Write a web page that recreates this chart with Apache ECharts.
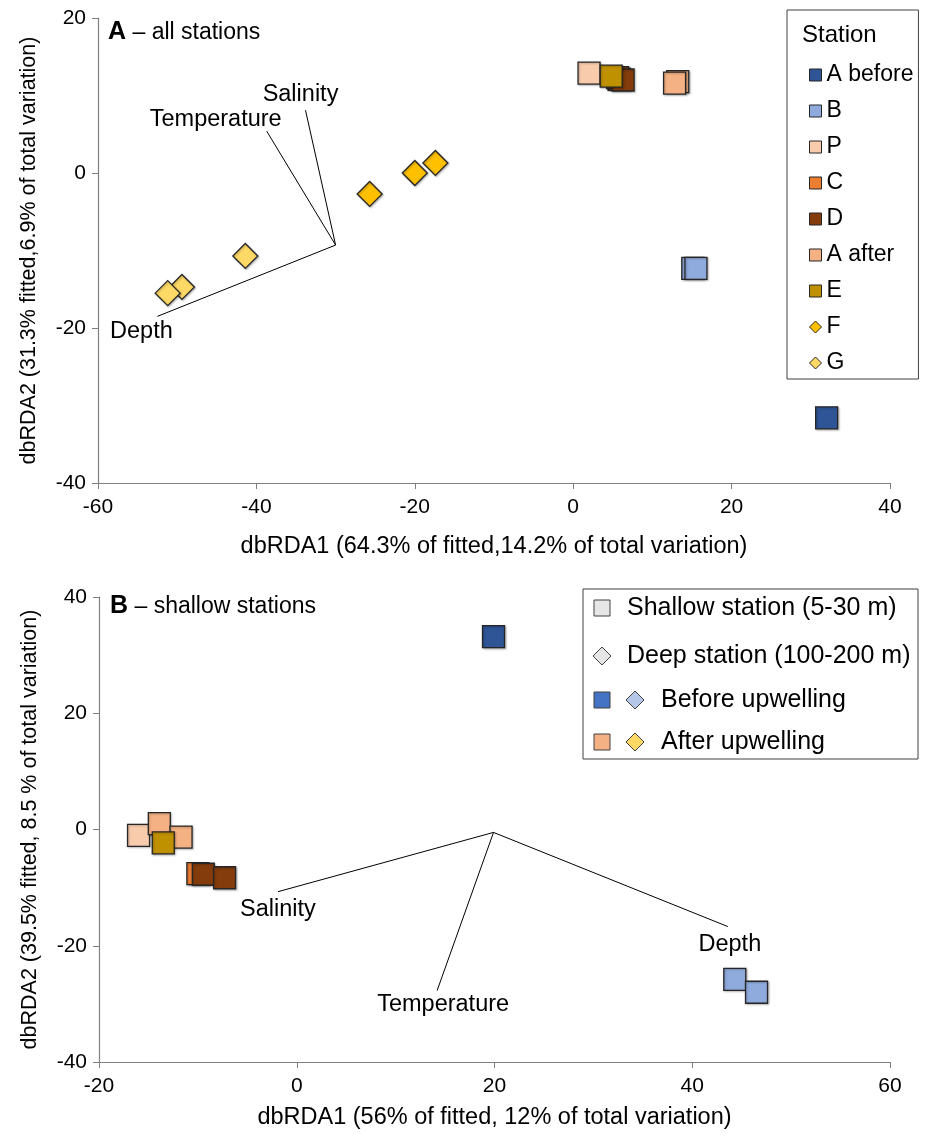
<!DOCTYPE html>
<html>
<head>
<meta charset="utf-8">
<script src="https://cdn.jsdelivr.net/npm/echarts@6/dist/echarts.min.js"></script>
<style>
    html, body { margin: 0; padding: 0; background: #fff; }
    #chart { width: 929px; height: 1136px; }
</style>
</head>
<body>
<div id="chart"></div>
<script>
/* 数据：A 图（全部站位） */
var stationNames = ['A before', 'B', 'P', 'C', 'D', 'A after', 'E', 'F', 'G'];
var aBeforeAll = [[32.0, -31.6]];
var bAll = [[15.1, -12.3], [15.5, -12.3]];
var pAll = [[2.0, 12.9]];
var cAll = [[5.8, 12.1]];
var dAll = [[5.6, 12.3], [6.3, 12.0]];
var aAfterAll = [[13.2, 11.8], [12.8, 11.6]];
var eAll = [[4.8, 12.5]];
var fAll = [[-17.4, 1.3], [-20.0, 0.0], [-25.7, -2.7]];
var gAll = [[-41.4, -10.7], [-49.4, -14.7], [-51.2, -15.5]];

var vecNames = ['Salinity', 'Temperature', 'Depth'];
var vecOriginAll = [-30.0, -9.3];
var vecEndsAll = [[-33.8, 8.1], [-38.7, 5.4], [-52.5, -18.5]];

/* 数据：B 图（浅水站位） */
var aBeforeShallow = [[19.9, 33.2]];
var bShallow = [[44.3, -25.8], [46.5, -28.0]];
var pShallow = [[-16.0, -1.0]];
var cShallow = [[-10.0, -7.6]];
var dShallow = [[-9.45, -7.7], [-7.3, -8.3]];
var aAfterShallow = [[-13.9, 1.0], [-11.7, -1.3]];
var eShallow = [[-13.5, -2.3]];

var vecOriginShallow = [19.9, -0.5];
var vecEndsShallow = [[-1.9, -10.7], [14.2, -27.7], [43.6, -16.7]];

/* 坐标轴刻度 */
var xTicksAll = [-60, -40, -20, 0, 20, 40];
var yTicksAll = [-40, -20, 0, 20];
var xTicksShallow = [-20, 0, 20, 40, 60];
var yTicksShallow = [-40, -20, 0, 20, 40];

var xNameAll = 'dbRDA1 (64.3% of fitted,14.2% of total variation)';
var yNameAll = 'dbRDA2 (31.3% fitted,6.9% of total variation)';
var xNameShallow = 'dbRDA1 (56% of fitted, 12% of total variation)';
var yNameShallow = 'dbRDA2 (39.5% fitted, 8.5 % of total variation)';

var shallowLegendTexts = ['Shallow station (5-30 m)', 'Deep station (100-200 m)', 'Before upwelling', 'After upwelling'];

/* 样式 */
var FONT = '"Liberation Sans", Arial, sans-serif';
var stationColors = ['#2F5597', '#8FAADC', '#F8CBAD', '#ED7D31', '#843C0C', '#F4B183', '#BF9000', '#FFC000', '#FFD966'];
var diamondStations = ['F', 'G'];
var EDGE = '#262626';
var AXIS_COLOR = '#808080';

(function () {
    'use strict';
    var chart = echarts.init(document.getElementById('chart'));

    function colorOf(name) {
        return stationColors[stationNames.indexOf(name)];
    }

    function stationSeries(name, data, idx) {
        var isDiamond = diamondStations.indexOf(name) >= 0;
        return {
            type: 'scatter',
            name: name,
            data: data,
            xAxisIndex: idx,
            yAxisIndex: idx,
            symbol: isDiamond ? 'diamond' : 'rect',
            symbolSize: isDiamond ? 25 : 22,
            itemStyle: {
                color: colorOf(name), borderColor: EDGE, borderWidth: 1.3, opacity: 1,
                shadowColor: 'rgba(0,0,0,0.25)', shadowBlur: 2, shadowOffsetX: 1, shadowOffsetY: 1
            },
            emphasis: { disabled: true },
            silent: true
        };
    }

    function vectorSeries(origin, ends, labels, idx) {
        return vecNames.map(function (n, i) {
            var lb = labels[i];
            return {
                type: 'line',
                name: 'vec-' + n,
                xAxisIndex: idx,
                yAxisIndex: idx,
                symbol: 'circle',
                symbolSize: 0.1,
                showSymbol: true,
                lineStyle: { color: '#000', width: 1 },
                itemStyle: { color: '#000' },
                emphasis: { disabled: true },
                silent: true,
                z: 1,
                data: [
                    { value: origin },
                    {
                        value: ends[i],
                        label: {
                            show: true, formatter: n, position: lb.pos, distance: lb.dist,
                            offset: lb.off, fontFamily: FONT, fontSize: 23.5, color: '#000'
                        }
                    }
                ]
            };
        });
    }

    function xAxisCfg(idx, ticks, name, gap) {
        return {
            type: 'value', gridIndex: idx,
            min: ticks[0], max: ticks[ticks.length - 1], interval: 20,
            axisLine: { onZero: false, lineStyle: { color: AXIS_COLOR, width: 1.2 } },
            axisTick: { inside: false, length: 6, lineStyle: { color: AXIS_COLOR } },
            splitLine: { show: false },
            axisLabel: { fontFamily: FONT, fontSize: 21, color: '#000', margin: 14 },
            name: name, nameLocation: 'middle', nameGap: gap,
            nameTextStyle: { fontFamily: FONT, fontSize: 23.5, color: '#000' }
        };
    }

    function yAxisCfg(idx, ticks, name) {
        return {
            type: 'value', gridIndex: idx,
            min: ticks[0], max: ticks[ticks.length - 1], interval: 20,
            axisLine: { onZero: false, lineStyle: { color: AXIS_COLOR, width: 1.2 } },
            axisTick: { inside: false, length: 6, lineStyle: { color: AXIS_COLOR } },
            splitLine: { show: false },
            axisLabel: { fontFamily: FONT, fontSize: 21, color: '#000', margin: 12 },
            name: name, nameLocation: 'middle', nameGap: 58,
            nameTextStyle: { fontFamily: FONT, fontSize: 21.5, color: '#000' }
        };
    }

    var allLabels = [
        { pos: 'top', dist: 4, off: [-5, 0] },
        { pos: 'top', dist: 0, off: [-51, 0] },
        { pos: 'bottom', dist: 3, off: [-16, 0] }
    ];
    var shallowLabels = [
        { pos: 'bottom', dist: 6, off: [0, 0] },
        { pos: 'bottom', dist: 2, off: [6, 0] },
        { pos: 'bottom', dist: 6, off: [2, 0] }
    ];

    var series = []
        .concat(vectorSeries(vecOriginAll, vecEndsAll, allLabels, 0))
        .concat(vectorSeries(vecOriginShallow, vecEndsShallow, shallowLabels, 1))
        .concat([
            stationSeries('A before', aBeforeAll, 0),
            stationSeries('B', bAll, 0),
            stationSeries('P', pAll, 0),
            stationSeries('C', cAll, 0),
            stationSeries('D', dAll, 0),
            stationSeries('A after', aAfterAll, 0),
            stationSeries('E', eAll, 0),
            stationSeries('F', fAll, 0),
            stationSeries('G', gAll, 0),
            stationSeries('A before', aBeforeShallow, 1),
            stationSeries('B', bShallow, 1),
            stationSeries('P', pShallow, 1),
            stationSeries('C', cShallow, 1),
            stationSeries('D', dShallow, 1),
            stationSeries('A after', aAfterShallow, 1),
            stationSeries('E', eShallow, 1)
        ]);

    /* B 图图例（组合符号，用 graphic 画） */
    var lgLeft = 583, lgTop = 589;
    var rowY = [608, 656, 700, 742];
    var sq = 16;
    function square(cx, cy, fill) {
        return { type: 'rect', shape: { x: cx - sq / 2, y: cy - sq / 2, width: sq, height: sq },
                 style: { fill: fill, stroke: '#404040', lineWidth: 1 } };
    }
    function diamond(cx, cy, fill) {
        var h = 9;
        return { type: 'polygon', shape: { points: [[cx, cy - h], [cx + h, cy], [cx, cy + h], [cx - h, cy]] },
                 style: { fill: fill, stroke: '#404040', lineWidth: 1 } };
    }
    function txt(x, y, s) {
        return { type: 'text', x: x, y: y,
                 style: { text: s, font: '25px ' + FONT, fill: '#000', verticalAlign: 'middle' } };
    }
    var legendB = [
        { type: 'rect', shape: { x: lgLeft, y: lgTop, width: 335, height: 170 },
          style: { fill: '#fff', stroke: '#404040', lineWidth: 1 } },
        square(602, rowY[0], '#E7E6E6'), txt(627, rowY[0], shallowLegendTexts[0]),
        diamond(602, rowY[1], '#E7E6E6'), txt(627, rowY[1], shallowLegendTexts[1]),
        square(602, rowY[2], '#4472C4'), diamond(635, rowY[2], '#B4C7E7'), txt(661, rowY[2], shallowLegendTexts[2]),
        square(602, rowY[3], '#F4B183'), diamond(635, rowY[3], '#FFD966'), txt(661, rowY[3], shallowLegendTexts[3])
    ];

    var titleStyle = {
        fontFamily: FONT, fontSize: 23, fontWeight: 'normal', color: '#000',
        rich: { b: { fontFamily: FONT, fontSize: 25, fontWeight: 'bold', color: '#000' } }
    };

    var option = {
        animation: false,
        backgroundColor: '#fff',
        textStyle: { fontFamily: FONT },
        title: [
            { text: '{b|A} – all stations', left: 108, top: 20, padding: 0, textStyle: titleStyle },
            { text: '{b|B} – shallow stations', left: 110, top: 594, padding: 0, textStyle: titleStyle },
            { text: 'Station', left: 802, top: 23, padding: 0,
              textStyle: { fontFamily: FONT, fontSize: 24, fontWeight: 'normal', color: '#000' } }
        ],
        grid: [
            { left: 98, top: 18, width: 792, height: 465 },
            { left: 99, top: 597, width: 791, height: 465 }
        ],
        xAxis: [xAxisCfg(0, xTicksAll, xNameAll, 52), xAxisCfg(1, xTicksShallow, xNameShallow, 44)],
        yAxis: [yAxisCfg(0, yTicksAll, yNameAll), yAxisCfg(1, yTicksShallow, yNameShallow)],
        legend: {
            data: stationNames,
            orient: 'vertical',
            left: 787, top: 10,
            padding: [53, 5, 4, 22],
            itemWidth: 12, itemHeight: 12, itemGap: 12,
            selectedMode: false,
            borderColor: '#404040', borderWidth: 1, backgroundColor: '#fff',
            textStyle: { fontFamily: FONT, fontSize: 23, color: '#000', lineHeight: 24 },
            itemStyle: { borderColor: '#262626', borderWidth: 1, shadowBlur: 0, shadowOffsetX: 0, shadowOffsetY: 0 }
        },
        graphic: legendB,
        series: series
    };
    chart.setOption(option);
})();
</script>
</body>
</html>
